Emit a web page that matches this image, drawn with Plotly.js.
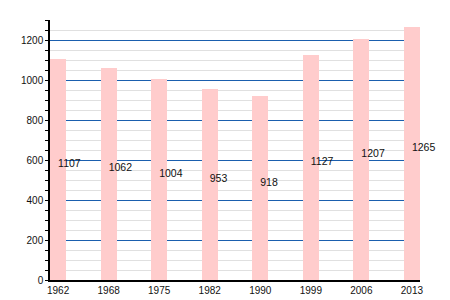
<!DOCTYPE html>
<html>
<head>
<meta charset="utf-8">
<script src="https://cdn.plot.ly/plotly-3.0.1.min.js"></script>
<style>html,body{margin:0;padding:0;background:#fff;}#chart{width:450px;height:300px;}</style>
</head>
<body>
<div id="chart"></div>
<script>
const years = ['1962', '1968', '1975', '1982', '1990', '1999', '2006', '2013'];
const population = [1107, 1062, 1004, 953, 918, 1127, 1207, 1265];
const yTicks = [0, 200, 400, 600, 800, 1000, 1200];

const font = {family: 'Liberation Sans, Arial, sans-serif', size: 10, color: '#111'};

const bars = {
  type: 'bar',
  x: years,
  y: population,
  width: 0.316,
  marker: {color: '#ffcccc', line: {width: 0}},
  hoverinfo: 'skip'
};

const labels = {
  type: 'scatter',
  mode: 'text',
  x: years,
  y: population.map(v => v / 2),
  text: population.map(String),
  textposition: 'top right',
  textfont: {family: font.family, size: 10.5, color: '#111'},
  hoverinfo: 'skip',
  cliponaxis: false
};

const layout = {
  width: 450, height: 300,
  margin: {l: 50, r: 30, t: 20, b: 20, pad: 0},
  paper_bgcolor: '#fff', plot_bgcolor: '#fff',
  font: font,
  showlegend: false,
  bargap: 0,
  xaxis: {
    type: 'category',
    range: [-0.16, 7.16],
    showline: true, linecolor: '#000', linewidth: 1.5,
    ticks: '', showgrid: false, zeroline: false,
    tickfont: font,
    automargin: false
  },
  yaxis: {
    range: [0, 1300],
    tickvals: yTicks,
    showline: true, linecolor: '#000', linewidth: 1.5,
    ticks: 'outside', ticklen: 3, tickcolor: '#000', tickwidth: 1,
    showgrid: true, gridcolor: '#1a5fae', gridwidth: 1.2,
    zeroline: false,
    tickfont: font,
    automargin: false,
    minor: {dtick: 50, tick0: 0, showgrid: true, gridcolor: '#e0e0e0', gridwidth: 1, ticks: 'outside', ticklen: 3, tickcolor: '#000', tickwidth: 1}
  }
};

Plotly.newPlot('chart', [bars, labels], layout, {displayModeBar: false});
</script>
</body>
</html>
